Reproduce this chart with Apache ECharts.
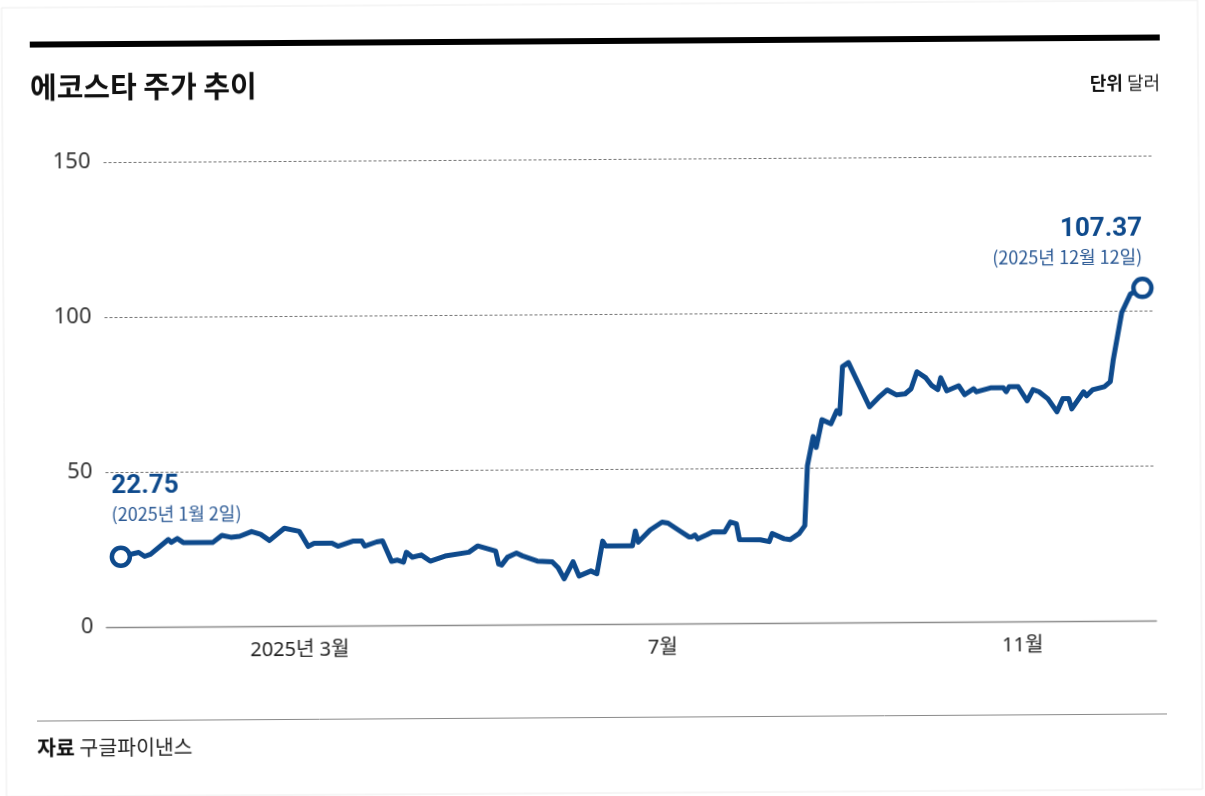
<!DOCTYPE html>
<html>
<head>
<meta charset="utf-8">
<script src="https://cdn.jsdelivr.net/npm/echarts@6/dist/echarts.min.js"></script>
<style>
html,body{margin:0;padding:0;background:#fff;overflow:hidden;}
#chart{width:1205px;height:796px;transform:rotate(-0.36deg);transform-origin:50% 50%;}
</style>
</head>
<body>
<div id="chart"></div>
<script>
// ---- data ----
const dates = [
 '2025-01-02','2025-01-08','2025-01-10','2025-01-12','2025-01-18','2025-01-19','2025-01-21','2025-01-23',
 '2025-02-02','2025-02-05','2025-02-08','2025-02-11','2025-02-15','2025-02-18','2025-02-21','2025-02-26',
 '2025-03-03','2025-03-04','2025-03-06','2025-03-08','2025-03-14','2025-03-16','2025-03-21','2025-03-24',
 '2025-03-25','2025-03-29','2025-03-31','2025-04-03','2025-04-05','2025-04-07','2025-04-08','2025-04-10',
 '2025-04-13','2025-04-16','2025-04-21','2025-04-29','2025-05-02','2025-05-08','2025-05-09','2025-05-10',
 '2025-05-12','2025-05-15','2025-05-17','2025-05-22','2025-05-27','2025-05-29','2025-05-31','2025-06-03',
 '2025-06-05','2025-06-09','2025-06-11','2025-06-13','2025-06-14','2025-06-23','2025-06-24','2025-06-25',
 '2025-06-29','2025-07-03','2025-07-05','2025-07-09','2025-07-12','2025-07-13','2025-07-14','2025-07-15',
 '2025-07-18','2025-07-20','2025-07-24','2025-07-26','2025-07-28','2025-07-29','2025-08-05','2025-08-08',
 '2025-08-09','2025-08-13','2025-08-15','2025-08-18','2025-08-20','2025-08-21','2025-08-23','2025-08-24',
 '2025-08-26','2025-08-29','2025-08-31','2025-09-01','2025-09-02','2025-09-04','2025-09-11','2025-09-14',
 '2025-09-17','2025-09-20','2025-09-23','2025-09-25','2025-09-27','2025-09-30','2025-10-02','2025-10-04',
 '2025-10-05','2025-10-07','2025-10-11','2025-10-13','2025-10-16','2025-10-17','2025-10-22','2025-10-26',
 '2025-10-27','2025-10-28','2025-10-31','2025-11-03','2025-11-05','2025-11-07','2025-11-10','2025-11-13',
 '2025-11-15','2025-11-17','2025-11-18','2025-11-22','2025-11-23','2025-11-25','2025-11-29','2025-12-01',
 '2025-12-02','2025-12-05','2025-12-08','2025-12-12'
];
const prices = [
 22.75,24.1,22.8,23.5,28.2,27.3,28.5,27.2,
 27.2,29.4,28.8,29.1,30.6,29.7,27.7,31.6,
 30.6,29.0,25.7,26.7,26.7,25.7,27.3,27.3,
 25.7,27.0,27.3,20.7,21.1,20.4,23.6,22.0,
 22.7,20.7,22.3,23.5,25.5,23.8,19.6,19.3,
 21.8,23.1,22.2,20.5,20.2,18.3,14.7,20.2,
 15.6,17.2,16.3,26.8,25.2,25.2,30.0,26.4,
 30.3,32.8,32.5,29.9,28.0,28.0,28.6,27.3,
 28.6,29.6,29.5,32.7,32.1,27.0,26.9,26.3,
 28.9,27.2,26.9,28.8,31.4,50.7,60.1,56.6,
 65.5,64.2,68.4,67.4,82.6,83.9,69.6,72.5,
 75.0,73.4,73.7,75.3,80.8,78.8,76.3,75.0,
 78.8,74.6,76.2,73.3,75.2,74.2,75.5,75.5,
 74.2,75.8,75.8,71.2,74.8,74.1,71.8,67.6,
 71.8,71.8,68.5,74.0,72.7,74.6,75.6,77.2,
 84.0,99.5,105.5,107.37
];
const yTicks = [0, 50, 100, 150];
const xRange = ['2024-12-28', '2025-12-16'];
const xTickDates = ['2025-03-03', '2025-07-03', '2025-11-01'];
const xTickLabels = ['2025년 3월', '7월', '11월'];
const titleText = '에코스타 주가 추이';
const unitLabel = '단위';
const unitText = '달러';
const sourceLabel = '자료';
const sourceText = '구글파이낸스';

// ---- style ----
const BLUE = '#0e4a8c';
const BLUE2 = '#2c5a95';
const SANS = "'Noto Sans','Noto Sans CJK KR',sans-serif";
const KR = "'Noto Sans CJK KR','Noto Sans',sans-serif";

function ts(s) { return echarts.time.parse(s).getTime(); }
function krDate(s) {
  const p = s.split('-');
  return p[0] + '년 ' + (+p[1]) + '월 ' + (+p[2]) + '일';
}
const tickTs = xTickDates.map(ts);

const lineData = dates.map((d, i) => [ts(d), prices[i]]);
const n = dates.length - 1;
const richLbl = {
  v: {fontFamily: 'Roboto', fontWeight: 700, fontSize: 26, color: BLUE, lineHeight: 28, opacity: 1},
  d: {fontFamily: KR, fontSize: 18, color: BLUE2, lineHeight: 28, opacity: 1}
};
const endPoints = [
  {
    value: [ts(dates[0]), prices[0]],
    label: {show: true, position: 'top', distance: 17, align: 'left', offset: [-9, 0],
      formatter: '{v|' + prices[0].toFixed(2) + '}\n{d|(' + krDate(dates[0]) + ')}', rich: richLbl}
  },
  {
    value: [ts(dates[n]), prices[n]],
    label: {show: true, position: 'top', distance: 6, align: 'right', offset: [0, 0],
      formatter: '{v|' + prices[n].toFixed(2) + '}\n{d|(' + krDate(dates[n]) + ')}', rich: richLbl}
  }
];

const chart = echarts.init(document.getElementById('chart'), null, {renderer: 'canvas'});
chart.setOption({
  backgroundColor: '#fff',
  animation: false,
  grid: {left: 105, right: 50, top: 159.2, bottom: 171.8, containLabel: false},
  xAxis: {
    type: 'value',
    min: ts(xRange[0]),
    max: ts(xRange[1]),
    axisLine: {show: true, lineStyle: {color: '#8a8a8a', width: 1.3}},
    axisTick: {show: false},
    splitLine: {show: false},
    axisLabel: {
      customValues: tickTs,
      formatter: function (v) {
        for (let i = 0; i < tickTs.length; i++) {
          if (Math.abs(tickTs[i] - v) < 43200000) return xTickLabels[i];
        }
        return '';
      },
      fontFamily: SANS, fontSize: 20, color: '#222', margin: 14, hideOverlap: false
    }
  },
  yAxis: {
    type: 'value',
    min: yTicks[0],
    max: yTicks[yTicks.length - 1],
    interval: yTicks[1] - yTicks[0],
    axisLine: {show: false},
    axisTick: {show: false},
    axisLabel: {fontFamily: SANS, fontSize: 22, color: '#333', margin: 13},
    splitLine: {show: true, lineStyle: {type: [3, 2], color: '#777', width: 1}}
  },
  series: [
    {
      type: 'line',
      data: lineData,
      showSymbol: false,
      silent: true,
      z: 2,
      lineStyle: {color: BLUE, width: 5, join: 'round', cap: 'round', opacity: 1}
    },
    {
      type: 'scatter',
      data: endPoints,
      symbol: 'circle',
      symbolSize: 18,
      z: 3,
      silent: true,
      itemStyle: {color: '#fff', borderColor: BLUE, borderWidth: 4.5, opacity: 1}
    }
  ],
  graphic: [
    {type: 'rect', shape: {x: 4, y: 4, width: 1196, height: 789}, style: {fill: 'none', stroke: '#ececec', lineWidth: 1}, silent: true},
    {type: 'rect', shape: {x: 32, y: 38, width: 1130, height: 6}, style: {fill: '#000'}, silent: true},
    {type: 'text', x: 32, y: 84, style: {text: titleText, font: "bold 29px 'Noto Sans CJK KR'", fill: '#111', verticalAlign: 'middle', align: 'left'}, silent: true},
    {type: 'text', x: 1162, y: 86, style: {
      text: '{b|' + unitLabel + '} ' + unitText, align: 'right', verticalAlign: 'middle',
      fontFamily: KR, fontSize: 18, fill: '#222',
      rich: {b: {fontFamily: KR, fontWeight: 'bold', fontSize: 18, fill: '#111'}}
    }, silent: true},
    {type: 'line', shape: {x1: 35, y1: 717.5, x2: 1165, y2: 717.5}, style: {stroke: '#8a8a8a', lineWidth: 1}, silent: true},
    {type: 'text', x: 35, y: 744, style: {
      text: '{b|' + sourceLabel + '} ' + sourceText, align: 'left', verticalAlign: 'middle',
      fontFamily: KR, fontSize: 20.5, fill: '#222',
      rich: {b: {fontFamily: KR, fontWeight: 'bold', fontSize: 20.5, fill: '#111'}}
    }, silent: true}
  ]
});
</script>
</body>
</html>
